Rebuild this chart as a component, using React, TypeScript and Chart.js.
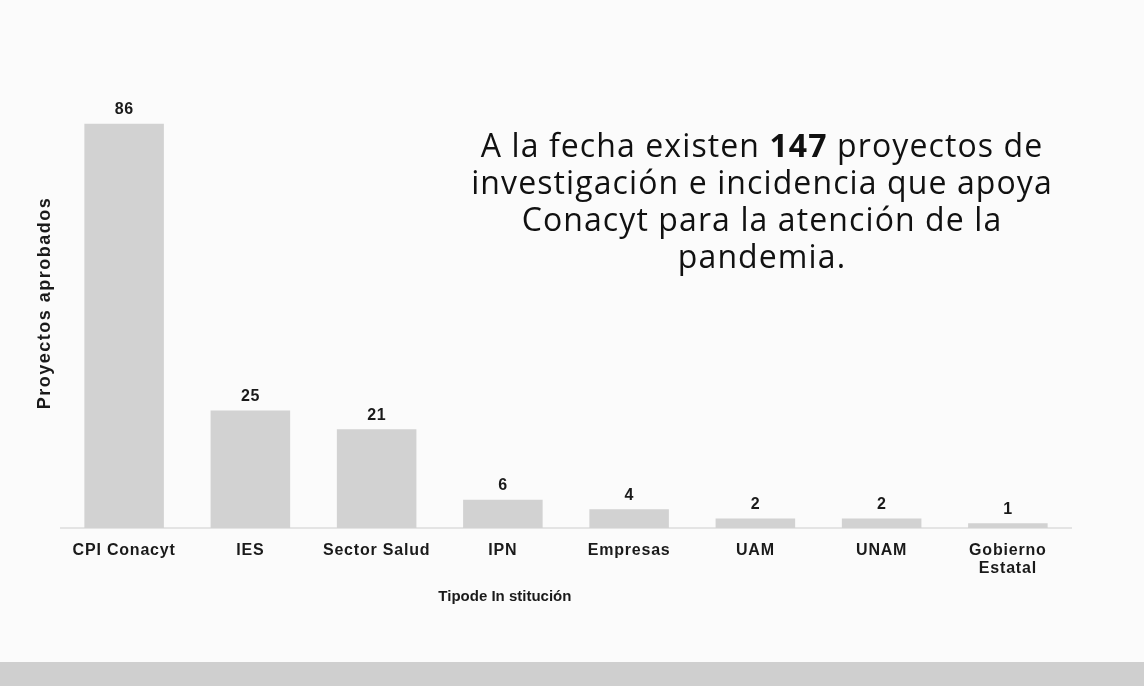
import React, { useEffect, useRef } from "react";
import { Chart, registerables } from "chart.js";

Chart.register(...registerables);

const categories: (string | string[])[] = [
  "CPI Conacyt",
  "IES",
  "Sector Salud",
  "IPN",
  "Empresas",
  "UAM",
  "UNAM",
  ["Gobierno", "Estatal"],
];
const values: number[] = [86, 25, 21, 6, 4, 2, 2, 1];
const yTitle = "Proyectos aprobados";
const xTitle = "Tipode In stitución";

const BAR_COLOR = "#d2d2d2";
const TEXT = "#1a1a1a";
const FONT = "'Liberation Sans', Arial, sans-serif";

const spacingPlugin = {
  id: "spacing",
  beforeDraw(chart: any) {
    (chart.ctx as any).letterSpacing = "0.8px";
  },
};

const labelsPlugin = {
  id: "valueLabels",
  afterDatasetsDraw(chart: any) {
    const ctx = chart.ctx;
    const meta = chart.getDatasetMeta(0);
    ctx.save();
    ctx.fillStyle = TEXT;
    ctx.font = `bold 16px ${FONT}`;
    (ctx as any).letterSpacing = "0.5px";
    ctx.textAlign = "center";
    ctx.textBaseline = "bottom";
    meta.data.forEach((bar: any, i: number) => {
      ctx.fillText(String(values[i]), bar.x, bar.y - 6);
    });
    // axis titles
    const area = chart.chartArea;
    ctx.font = `bold 15px ${FONT}`;
    (ctx as any).letterSpacing = "0px";
    ctx.textBaseline = "middle";
    const xs = chart.scales.x;
    ctx.fillText(xTitle, xs.getPixelForValue(3) + 2, area.bottom + 69);
    ctx.translate(45, (area.top + area.bottom) / 2 + 10);
    ctx.rotate(-Math.PI / 2);
    ctx.font = `bold 18px ${FONT}`;
    (ctx as any).letterSpacing = "1.5px";
    ctx.fillText(yTitle, 0, 0);
    ctx.restore();
  },
};

export default function App() {
  const ref = useRef<HTMLCanvasElement | null>(null);
  useEffect(() => {
    document.body.style.margin = "0";
    if (!ref.current) return;
    const chart = new Chart(ref.current, {
      type: "bar",
      data: {
        labels: categories as any,
        datasets: [
          {
            data: values,
            backgroundColor: BAR_COLOR,
            borderWidth: 0,
            categoryPercentage: 1,
            barPercentage: 0.63,
          },
        ],
      },
      options: {
        animation: false,
        responsive: false,
        maintainAspectRatio: false,
        layout: { padding: { left: 61, right: 73, top: 58, bottom: 0 } },
        plugins: {
          legend: { display: false },
          tooltip: { enabled: false },
          title: { display: false },
        },
        scales: {
          x: {
            grid: { display: false },
            border: { display: true, color: "#e4e4e4", width: 2 },
            ticks: {
              color: TEXT,
              font: { family: FONT, size: 16, weight: "bold", lineHeight: 1.1 },
              padding: 6,
              maxRotation: 0,
              autoSkip: false,
            },
            afterFit(scale: any) {
              scale.height = 158;
            },
          },
          y: {
            display: false,
            min: 0,
            max: 100,
          },
        },
      },
      plugins: [spacingPlugin, labelsPlugin],
    });
    return () => chart.destroy();
  }, []);

  return (
    <div
      style={{
        position: "relative",
        width: 1144,
        height: 686,
        background: "#fbfbfb",
        overflow: "hidden",
      }}
    >
      <canvas ref={ref} width={1144} height={686} style={{ position: "absolute", left: 0, top: 0 }} />
      <div
        style={{
          position: "absolute",
          left: 0,
          top: 662,
          width: 1144,
          height: 24,
          background: "#cfcfcf",
        }}
      />
      <div
        style={{
          position: "absolute",
          left: 432,
          top: 126,
          width: 660,
          textAlign: "center",
          fontFamily: "'Open Sans', sans-serif",
          fontSize: 32,
          letterSpacing: "1.1px",
          lineHeight: "37px",
          color: "#111",
        }}
      >
        A la fecha existen <b>147</b> proyectos de
        <br />
        investigación e incidencia que apoya
        <br />
        Conacyt para la atención de la
        <br />
        pandemia.
      </div>
    </div>
  );
}
